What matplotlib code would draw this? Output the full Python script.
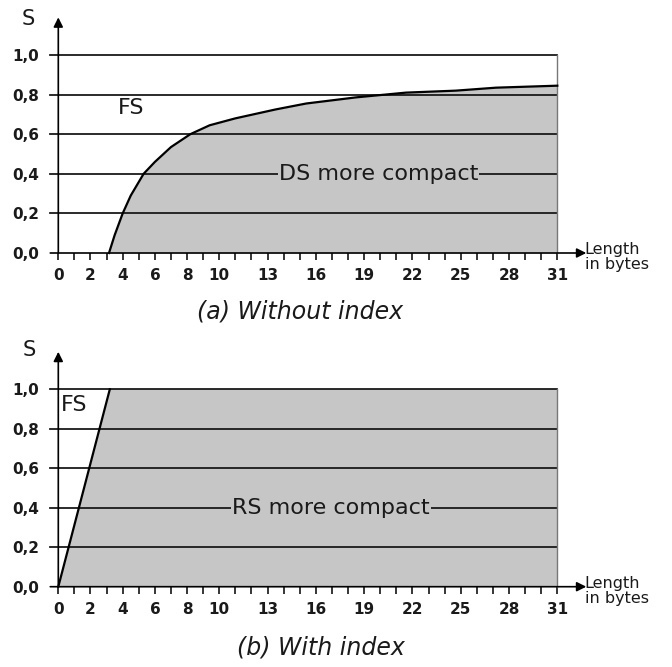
import matplotlib
matplotlib.use("Agg")
import matplotlib.pyplot as plt

# ── data ─────────────────────────────────────────────────────────────────────
# (a) without index: FS / DS break-even curve
len_a = [3.15, 3.5, 4.0, 4.5, 5.3, 6.0, 7.0, 8.2, 9.4, 11.0, 13.5, 15.4,
         18.5, 21.6, 24.7, 27.2, 31.0]
s_a = [0.0, 0.09, 0.20, 0.29, 0.40, 0.46, 0.535, 0.60, 0.645, 0.68, 0.725,
       0.755, 0.786, 0.81, 0.82, 0.835, 0.845]

# (b) with index: FS / RS break-even line
len_b = [0.0, 3.2]
s_b = [0.0, 1.0]

x_tick_pos = list(range(0, 32))
x_tick_labels = [0, 2, 4, 6, 8, 10, 13, 16, 19, 22, 25, 28, 31]
y_ticks = [0.0, 0.2, 0.4, 0.6, 0.8, 1.0]
y_tick_labels = ["0,0", "0,2", "0,4", "0,6", "0,8", "1,0"]
X_MAX = 31

GRAY = "#c6c6c6"
INK = "#1a1a1a"

fig = plt.figure(figsize=(6.72, 6.67), dpi=100)
W, H = 672.0, 667.0

# axes boxes in pixels: left spine at 58, 16.1 px per byte
ax_a = fig.add_axes([58.3 / W, 1 - 253 / H, 499 / W, 198 / H])
ax_b = fig.add_axes([58.3 / W, 1 - 586.7 / H, 499 / W, 197.4 / H])


def setup(ax, xs, ys, region_text, region_x, fs_xy, s_xy):
    ax.set_xlim(0, X_MAX)
    ax.set_ylim(0, 1)
    for sp in ax.spines.values():
        sp.set_visible(False)

    if xs[0] > 0:
        ax.fill_between(xs, ys, 0, color=GRAY, lw=0, zorder=1)
    else:
        ax.fill_betweenx(ys, xs, X_MAX, color=GRAY, lw=0, zorder=1)
    if ys[-1] >= 1.0:
        ax.fill_between([xs[-1], X_MAX], [1, 1], 0, color=GRAY, lw=0, zorder=1)

    # horizontal grid (extends a little left of the axis, like ticks)
    for y in y_ticks[1:]:
        ax.plot([-0.5, X_MAX], [y, y], color=INK, lw=1.3, zorder=2, clip_on=False)
    ax.plot([X_MAX, X_MAX], [0, 1], color="#777777", lw=1.0, zorder=2,
            clip_on=False)

    ax.plot(xs, ys, color="black", lw=1.6, zorder=3, clip_on=False)

    # axes with arrows
    ax.annotate("", xy=(0, 1.19), xytext=(0, 0), annotation_clip=False,
                arrowprops=dict(arrowstyle="-|>", color="black", lw=1.2,
                                mutation_scale=14, shrinkA=0, shrinkB=0))
    ax.annotate("", xy=(32.8, 0), xytext=(-0.5, 0), annotation_clip=False,
                arrowprops=dict(arrowstyle="-|>", color="black", lw=1.2,
                                mutation_scale=14, shrinkA=0, shrinkB=0))

    ax.set_xticks(x_tick_pos)
    ax.set_xticklabels([str(v) if v in x_tick_labels else "" for v in x_tick_pos])
    ax.set_yticks(y_ticks)
    ax.set_yticklabels(y_tick_labels)
    ax.tick_params(axis="x", direction="out", length=5, width=1.1, pad=6,
                   labelsize=11, color="black")
    ax.tick_params(axis="y", length=0, pad=14, labelsize=11)
    for lab in ax.get_xticklabels() + ax.get_yticklabels():
        lab.set_fontweight("bold")
        lab.set_color(INK)

    ax.text(region_x, 0.4, region_text, ha="center", va="center", fontsize=16,
            color=INK, zorder=4,
            bbox=dict(boxstyle="square,pad=0.05", fc=GRAY, ec="none"))
    ax.text(fs_xy[0], fs_xy[1], "FS", ha="left", va="center", fontsize=16,
            color=INK, zorder=4)
    ax.text(s_xy[0], s_xy[1], "S", ha="center", va="center", fontsize=15,
            color=INK, clip_on=False)
    ax.text(32.7, -0.02, "Length\nin bytes", ha="left", va="center",
            fontsize=11.5, color=INK, linespacing=1.0, clip_on=False)


setup(ax_a, len_a, s_a, "DS more compact", 19.9, (3.7, 0.73), (-1.85, 1.18))
setup(ax_b, len_b, s_b, "RS more compact", 16.95, (0.15, 0.92), (-1.8, 1.2))

fig.text(300 / W, 1 - 312 / H, "(a) Without index", ha="center", va="center",
         fontsize=17, style="italic", color=INK)
fig.text(321 / W, 1 - 648 / H, "(b) With index", ha="center", va="center",
         fontsize=17, style="italic", color=INK)

fig.savefig("out.png", dpi=100, facecolor="white")
